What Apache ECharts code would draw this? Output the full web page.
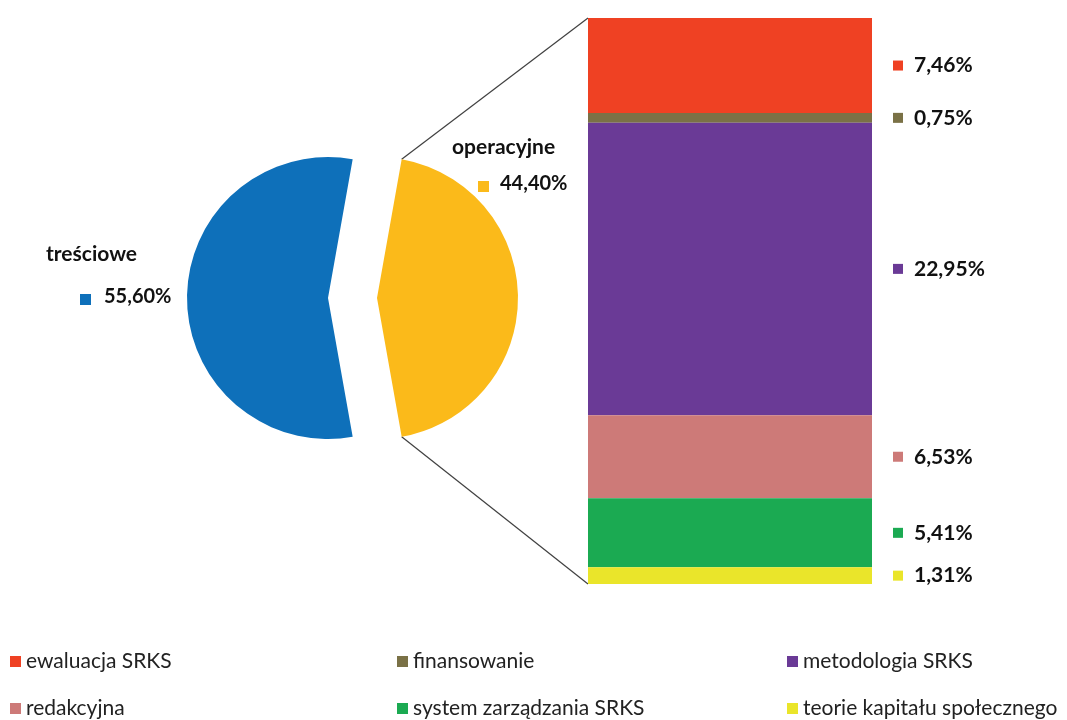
<!DOCTYPE html>
<html><head><meta charset="utf-8">
<script src="https://cdn.jsdelivr.net/npm/echarts@6/dist/echarts.min.js"></script>
<style>html,body{margin:0;padding:0;background:#fff}#c{width:1067px;height:720px}</style>
</head><body><div id="c"></div>
<script>
const pieNames = ['operacyjne', 'treściowe'];
const pieValues = [44.40, 55.60];
const pieColors = ['#FBBA1A', '#0E70BA'];
const barNames = ['ewaluacja SRKS', 'finansowanie', 'metodologia SRKS', 'redakcyjna', 'system zarządzania SRKS', 'teorie kapitału społecznego'];
const barValues = [7.46, 0.75, 22.95, 6.53, 5.41, 1.31];
const barColors = ['#EF4123', '#7A7146', '#6A3A96', '#CD7A78', '#1BAA52', '#EAE52A'];

const FONT = 'Lato';
const fmt = v => v.toFixed(2).replace('.', ',') + '%';
const barTotal = barValues.reduce((a, b) => a + b, 0);

const pieCenter = [328, 298];
const pieR = 141;
const explode = 49;
const halfAngle = 360 * pieValues[0] / 100 / 2;

const chart = echarts.init(document.getElementById('c'));

const legendPos = [[10, 651], [397, 651], [787, 651], [10, 698], [397, 698], [787, 698]];

const option = {
  animation: false,
  backgroundColor: '#fff',
  grid: { left: 588, top: 18, width: 284, height: 566 },
  xAxis: { type: 'category', data: [''], show: false },
  yAxis: { type: 'value', min: 0, max: barTotal, inverse: true, show: false },
  legend: barNames.map((n, i) => ({
    data: [n], left: legendPos[i][0], top: legendPos[i][1], padding: 0,
    icon: 'rect', itemWidth: 11, itemHeight: 11, selectedMode: false,
    textStyle: { fontFamily: FONT, fontSize: 21, color: '#222' }
  })),
  series: [
    {
      type: 'pie', center: pieCenter, radius: pieR, startAngle: halfAngle,
      selectedMode: 'single', selectedOffset: explode,
      label: { show: false }, labelLine: { show: false },
      emphasis: { disabled: true }, select: { itemStyle: { borderWidth: 0 } },
      itemStyle: { borderWidth: 0 },
      data: pieNames.map((n, i) => ({ name: n, value: pieValues[i], selected: i === 0, itemStyle: { color: pieColors[i] } }))
    },
    ...barNames.map((n, i) => ({
      type: 'bar', name: n, stack: 'ops', barWidth: '100%',
      data: [barValues[i]], itemStyle: { color: barColors[i] },
      emphasis: { disabled: true },
      label: {
        show: true, position: 'right', distance: 21,
        formatter: () => '{m|}{v|' + fmt(barValues[i]) + '}',
        rich: {
          m: { width: 10, height: 10, backgroundColor: barColors[i] },
          v: { fontFamily: FONT, fontSize: 21, fontWeight: 'bold', color: '#111', padding: [0, 0, 0, 11] }
        }
      }
    }))
  ]
};
chart.setOption(option);

// connector lines and pie labels
const rect = chart.getModel().getComponent('grid').coordinateSystem.getRect();
const rad = halfAngle * Math.PI / 180;
const cx = pieCenter[0] + explode, cy = pieCenter[1];
const pTop = [cx + pieR * Math.cos(rad), cy - pieR * Math.sin(rad)];
const pBot = [cx + pieR * Math.cos(rad), cy + pieR * Math.sin(rad)];
const lineStyle = { stroke: '#404040', lineWidth: 1.2 };
function pieLabel(nx, ny, mx, my, vx, vy, name, val, color) {
  return [
    { type: 'text', left: nx, top: ny, style: { text: name, font: 'bold 21px ' + FONT, fill: '#111' } },
    { type: 'rect', left: mx, top: my, shape: { width: 11, height: 11 }, style: { fill: color } },
    { type: 'text', left: vx, top: vy, style: { text: fmt(val), font: 'bold 20px ' + FONT, fill: '#111' } }
  ];
}
chart.setOption({
  graphic: [
    { type: 'line', shape: { x1: pTop[0], y1: pTop[1], x2: rect.x, y2: rect.y }, style: lineStyle },
    { type: 'line', shape: { x1: pBot[0], y1: pBot[1], x2: rect.x, y2: rect.y + rect.height }, style: lineStyle },
    ...pieLabel(46, 244, 80, 294, 104, 287, pieNames[1], pieValues[1], pieColors[1]),
    ...pieLabel(452, 137, 478, 181, 500, 174, pieNames[0], pieValues[0], pieColors[0])
  ]
});
</script>
</body></html>
